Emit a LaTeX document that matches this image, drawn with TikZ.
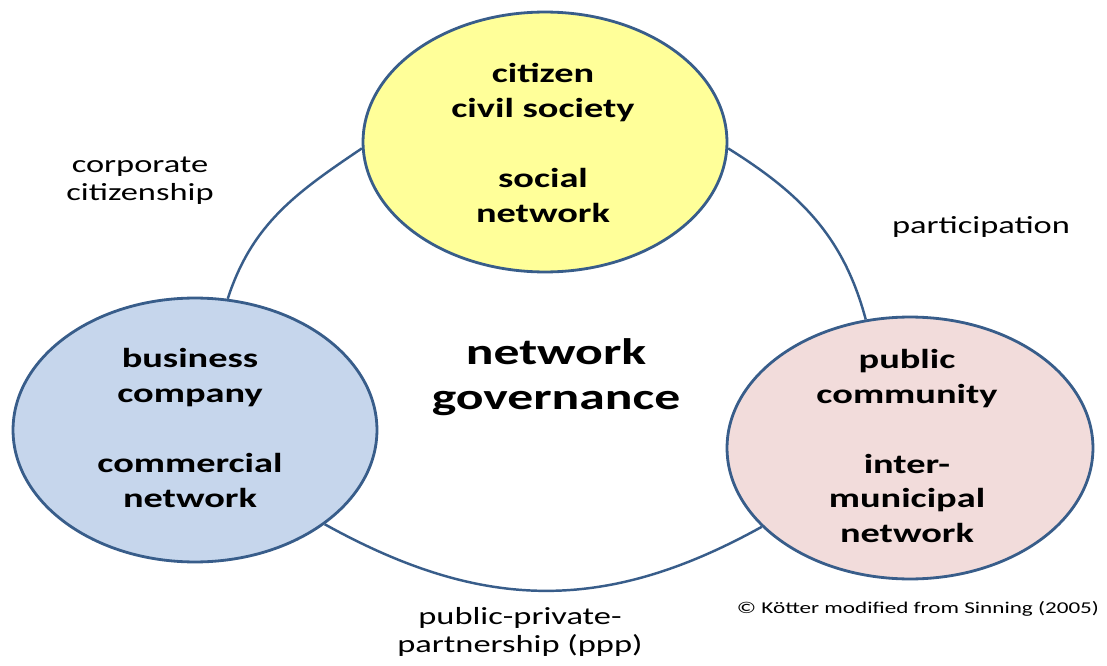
\documentclass[tikz,border=0pt]{standalone}
\usepackage{fontspec}
\setmainfont{Carlito}[FakeStretch=1.4]
\usetikzlibrary{shapes.geometric}
\definecolor{edge}{RGB}{56,93,138}
\definecolor{yel}{RGB}{255,255,153}
\definecolor{blu}{RGB}{198,214,236}
\definecolor{pnk}{RGB}{242,220,219}
\begin{document}
\begin{tikzpicture}[x=0.02cm,y=-0.02cm,
  blob/.style={ellipse, draw=edge, line width=1.6pt, inner sep=0pt},
  ring/.style={draw=edge, line width=1.4pt},
  inner/.style={align=center, font=\fontsize{15.6}{19.8}\selectfont\bfseries, inner sep=0pt},
  lbl/.style={align=center, font=\fontsize{14}{16}\selectfont, inner sep=0pt}]
\useasboundingbox (0,0) rectangle (1107,666);
\fill[white] (0,0) rectangle (1107,666);
% ellipses
\node[blob, fill=yel, minimum width=7.28cm, minimum height=5.2cm] (soc) at (545,142) {};
\node[blob, fill=blu, minimum width=7.28cm, minimum height=5.28cm] (bus) at (195,430) {};
\node[blob, fill=pnk, minimum width=7.32cm, minimum height=5.24cm] (pub) at (910,448) {};
% connecting ring
\draw[ring] (soc.182) to[out=214,in=72] (bus.76);
\draw[ring] (soc.358) to[out=-32,in=105] (pub.109);
\draw[ring] (bus.-36) to[out=-29,in=209,looseness=1.05] (pub.208);
% texts in ellipses
\node[inner] (soct) at (543,143) {citizen\\civil society\\[20pt]social\\network};
\node[inner] (bust) at (190,428) {business\\company\\[20pt]commercial\\network};
\node[inner] (pubt) at (907,446) {public\\community\\[20pt]inter-\\municipal\\network};
% centre
\node[align=center, inner sep=0pt, font=\fontsize{21}{25.6}\selectfont\bfseries] (gov) at (556,377) {network\\governance};
% labels
\node[lbl] (corp) at (140,181) {corporate\\citizenship};
\node[lbl] (part) at (981,227) {participation};
\node[lbl] (ppp) at (520,632) {public-private-\\partnership (ppp)};
\node[inner sep=0pt, font=\fontsize{9.4}{11}\selectfont] (copy) at (918,609) {© Kötter modified from Sinning (2005)};
\end{tikzpicture}
\end{document}
